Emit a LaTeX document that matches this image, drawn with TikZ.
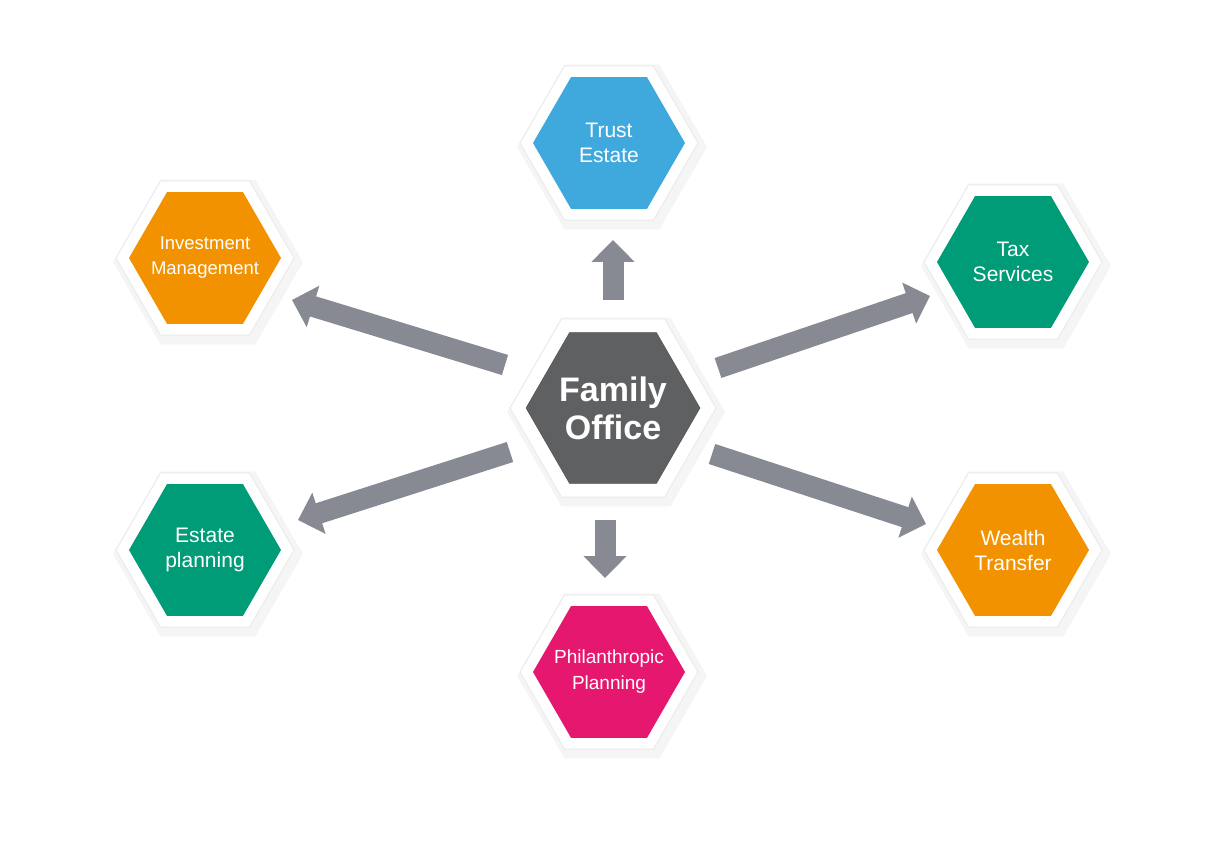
\documentclass[tikz,border=0pt]{standalone}
\usepackage{fontspec}
\setmainfont{Liberation Sans}
\usetikzlibrary{shapes.geometric,arrows.meta}
\definecolor{cblue}{HTML}{3FA9DE}
\definecolor{corange}{HTML}{F39200}
\definecolor{cgreen}{HTML}{009B77}
\definecolor{cpink}{HTML}{E5176F}
\definecolor{cdark}{HTML}{5F6062}
\definecolor{carrow}{HTML}{878A93}
\tikzset{
  x=1pt,y=-1pt,
  hexo/.style={regular polygon,regular polygon sides=6,minimum size=#1,inner sep=0pt,fill=white,draw=black!8,line width=1pt},
  hexi/.style={regular polygon,regular polygon sides=6,minimum size=152pt,inner sep=0pt,fill=#1},
  hlab/.style={text=white,align=center,font=\fontsize{21}{25}\selectfont},
  bigarrow/.style={draw=carrow,line width=21pt,-{Triangle[width=42pt,length=22pt]}}
}
\begin{document}
\begin{tikzpicture}
\useasboundingbox (0,0) rectangle (1219,842);
% shadows
\foreach \cx/\cy in {609/143,205/258,1013/262,205/550,1013/550,609/672}
  \node[regular polygon,regular polygon sides=6,minimum size=190pt,fill=black!4] at (\cx+3,\cy+4) {};
\node[regular polygon,regular polygon sides=6,minimum size=218pt,fill=black!4] at (616,412) {};
% outer white
\node[hexo=206pt] (fo) at (613,408) {};
\node[hexo=178pt] (te) at (609,143) {};
\node[hexo=178pt] (im) at (205,258) {};
\node[hexo=178pt] (ts) at (1013,262) {};
\node[hexo=178pt] (ep) at (205,550) {};
\node[hexo=178pt] (wt) at (1013,550) {};
\node[hexo=178pt] (pp) at (609,672) {};
% inner
\node[regular polygon,regular polygon sides=6,minimum size=174pt,inner sep=0pt,fill=cdark,draw=black!70] (foi) at (613,408) {};
\node[hexi=cblue] (tei) at (609,143) {};
\node[hexi=corange] (imi) at (205,258) {};
\node[hexi=cgreen] (tsi) at (1013,262) {};
\node[hexi=cgreen] (epi) at (205,550) {};
\node[hexi=corange] (wti) at (1013,550) {};
\node[hexi=cpink] (ppi) at (609,672) {};
% labels
\node[hlab,font=\bfseries\fontsize{34}{38}\selectfont] (fol) at (foi) {Family\\Office};
\node[hlab] (tel) at (tei) {Trust\\Estate};
\node[hlab,font=\fontsize{18.5}{25}\selectfont] (iml) at (imi) {Investment\\Management};
\node[hlab] (tsl) at (tsi) {Tax\\Services};
\node[hlab] (epl) at (epi) {Estate\\planning};
\node[hlab] (wtl) at (wti) {Wealth\\Transfer};
\node[hlab,font=\fontsize{19}{26}\selectfont] (ppl) at (ppi) {Philanthropic\\Planning};
% arrows
\coordinate (a1s) at (613,300); \coordinate (a1e) at (613,240);
\coordinate (a2s) at (505,365); \coordinate (a2e) at (292,300);
\coordinate (a3s) at (718,368); \coordinate (a3e) at (930,296);
\coordinate (a4s) at (510,452); \coordinate (a4e) at (298,520);
\coordinate (a5s) at (712,454); \coordinate (a5e) at (926,524);
\coordinate (a6s) at (605,520); \coordinate (a6e) at (605,578);
\foreach \i in {1,...,6} \draw[bigarrow] (a\i s) -- (a\i e);
\end{tikzpicture}
\end{document}
